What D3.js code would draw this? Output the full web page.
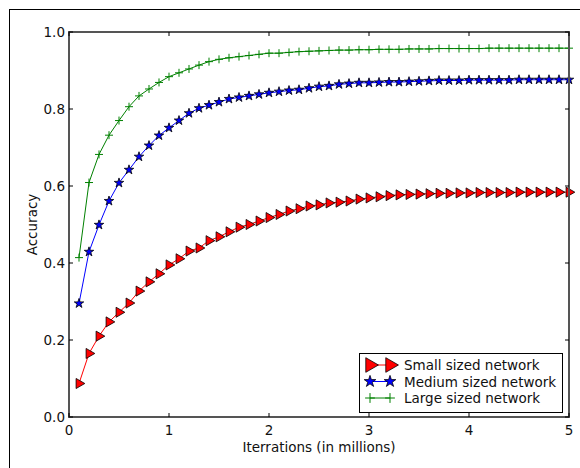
<!DOCTYPE html>
<html>
<head>
<meta charset="utf-8">
<script src="https://cdn.jsdelivr.net/npm/d3@7"></script>
<style>
  body { margin: 0; background: #fff; }
  svg { display: block; font-family: "DejaVu Sans", sans-serif; }
</style>
</head>
<body>
<svg id="grafico" width="580" height="468"></svg>
<script>
// Datos: iteraciones (millones) y precisión de cada red
var iteraciones = d3.range(1, 51).map(function(i){ return i / 10; });

var pequena = [0.087, 0.165, 0.210, 0.247, 0.272, 0.296, 0.327, 0.351, 0.372, 0.395,
               0.411, 0.431, 0.439, 0.458, 0.468, 0.481, 0.493, 0.500, 0.509, 0.518,
               0.526, 0.535, 0.541, 0.548, 0.551, 0.556, 0.558, 0.561, 0.566, 0.569,
               0.572, 0.575, 0.577, 0.578, 0.579, 0.580, 0.581, 0.581, 0.582, 0.582,
               0.583, 0.583, 0.583, 0.583, 0.584, 0.584, 0.584, 0.584, 0.584, 0.584];

var mediana = [0.295, 0.429, 0.499, 0.561, 0.608, 0.642, 0.676, 0.705, 0.731, 0.751,
               0.770, 0.789, 0.802, 0.810, 0.818, 0.826, 0.830, 0.834, 0.838, 0.842,
               0.845, 0.848, 0.850, 0.854, 0.858, 0.860, 0.864, 0.866, 0.868, 0.868,
               0.869, 0.870, 0.870, 0.871, 0.872, 0.873, 0.874, 0.874, 0.874, 0.875,
               0.875, 0.875, 0.875, 0.875, 0.876, 0.876, 0.876, 0.876, 0.876, 0.876];

var grande = [0.414, 0.609, 0.682, 0.732, 0.770, 0.806, 0.834, 0.852, 0.869, 0.884,
              0.894, 0.904, 0.914, 0.923, 0.929, 0.933, 0.936, 0.939, 0.942, 0.945,
              0.945, 0.947, 0.949, 0.950, 0.951, 0.952, 0.953, 0.953, 0.954, 0.954,
              0.955, 0.955, 0.955, 0.956, 0.956, 0.956, 0.957, 0.957, 0.957, 0.957,
              0.957, 0.958, 0.958, 0.958, 0.958, 0.958, 0.958, 0.958, 0.958, 0.958];

var nombres = ["Small sized network", "Medium sized network", "Large sized network"];
var colores = ["#ff0000", "#0000ff", "#008000"];
var ticksX = [0, 1, 2, 3, 4, 5];
var ticksY = [0.0, 0.2, 0.4, 0.6, 0.8, 1.0];

var margen = {izq: 69, der: 569, arr: 32, abj: 417};
var svg = d3.select("#grafico");

// Marco exterior de la figura
svg.append("rect")
    .attr("x", 9.5).attr("y", 9.5)
    .attr("width", 640).attr("height", 520)
    .attr("fill", "none").attr("stroke", "black").attr("stroke-width", 1);

var x = d3.scaleLinear().domain([0, 5]).range([margen.izq, margen.der]);
var y = d3.scaleLinear().domain([0, 1]).range([margen.abj, margen.arr]);

// Simbolos de cada serie
var triangulo = d3.symbol().type(d3.symbolTriangle);
var estrella = d3.symbol().type(d3.symbolStar);
function cruz(r){ return "M" + (-r) + ",0H" + r + "M0," + (-r) + "V" + r; }

function dibujarMarcador(g, tipo, escala){
    if (tipo === 0){
        g.append("path").attr("d", triangulo.size(44 * escala)())
            .attr("transform", "rotate(90)")
            .attr("fill", colores[0]).attr("stroke", "black").attr("stroke-width", 0.8);
    } else if (tipo === 1){
        g.append("path").attr("d", estrella.size(28 * escala)())
            .attr("fill", colores[1]).attr("stroke", "black").attr("stroke-width", 0.8);
    } else {
        g.append("path").attr("d", cruz(4 * Math.sqrt(escala)))
            .attr("fill", "none").attr("stroke", colores[2]).attr("stroke-width", 1);
    }
}

var series = [pequena, mediana, grande];
var linea = d3.line().x(function(d, i){ return x(iteraciones[i]); }).y(function(d){ return y(d); });

series.forEach(function(datos, k){
    var g = svg.append("g");
    g.append("path").datum(datos)
        .attr("d", linea)
        .attr("fill", "none").attr("stroke", colores[k]).attr("stroke-width", 1);
    datos.forEach(function(v, i){
        var m = g.append("g").attr("transform", "translate(" + x(iteraciones[i]) + "," + y(v) + ")");
        dibujarMarcador(m, k, 1);
    });
});

// Ejes: marco gris y ticks hacia dentro
var ejes = svg.append("g");
ejes.append("rect")
    .attr("x", margen.izq).attr("y", margen.arr)
    .attr("width", margen.der - margen.izq).attr("height", margen.abj - margen.arr)
    .attr("fill", "none").attr("stroke", "#555").attr("stroke-width", 2);

ticksX.forEach(function(t){
    ejes.append("line").attr("x1", x(t)).attr("x2", x(t))
        .attr("y1", margen.abj).attr("y2", margen.abj - 4).attr("stroke", "black");
    ejes.append("line").attr("x1", x(t)).attr("x2", x(t))
        .attr("y1", margen.arr).attr("y2", margen.arr + 4).attr("stroke", "black");
    ejes.append("text").attr("x", x(t)).attr("y", margen.abj + 18)
        .attr("text-anchor", "middle").style("font-size", "13.5px").attr("fill", "#111")
        .text(t);
});
ticksY.forEach(function(t){
    ejes.append("line").attr("x1", margen.izq).attr("x2", margen.izq + 4)
        .attr("y1", y(t)).attr("y2", y(t)).attr("stroke", "black");
    ejes.append("line").attr("x1", margen.der).attr("x2", margen.der - 4)
        .attr("y1", y(t)).attr("y2", y(t)).attr("stroke", "black");
    ejes.append("text").attr("x", margen.izq - 4).attr("y", y(t))
        .attr("text-anchor", "end").attr("dominant-baseline", "central")
        .style("font-size", "13.5px").attr("fill", "#111")
        .text(t.toFixed(1));
});

svg.append("text")
    .attr("x", (margen.izq + margen.der) / 2).attr("y", 452)
    .attr("text-anchor", "middle").style("font-size", "13.5px").attr("fill", "#111")
    .text("Iterrations (in millions)");
svg.append("text")
    .attr("transform", "translate(37," + (margen.arr + margen.abj) / 2 + ") rotate(-90)")
    .attr("text-anchor", "middle").style("font-size", "13.5px").attr("fill", "#111")
    .text("Accuracy");

// Leyenda
var leyenda = svg.append("g");
leyenda.append("rect")
    .attr("x", 359.5).attr("y", 353.5).attr("width", 203).attr("height", 59)
    .attr("fill", "white").attr("stroke", "black").attr("stroke-width", 1);
nombres.forEach(function(n, k){
    var yy = 365 + k * 16.5;
    leyenda.append("line").attr("x1", 370).attr("x2", 390).attr("y1", yy).attr("y2", yy)
        .attr("stroke", colores[k]).attr("stroke-width", 1);
    [370, 390].forEach(function(xx){
        var m = leyenda.append("g").attr("transform", "translate(" + xx + "," + yy + ")");
        dibujarMarcador(m, k, k === 0 ? 2.1 : 1.5);
    });
    leyenda.append("text").attr("x", 404).attr("y", yy)
        .attr("dominant-baseline", "central").style("font-size", "13.5px").attr("fill", "#111")
        .text(n);
});
</script>
</body>
</html>
